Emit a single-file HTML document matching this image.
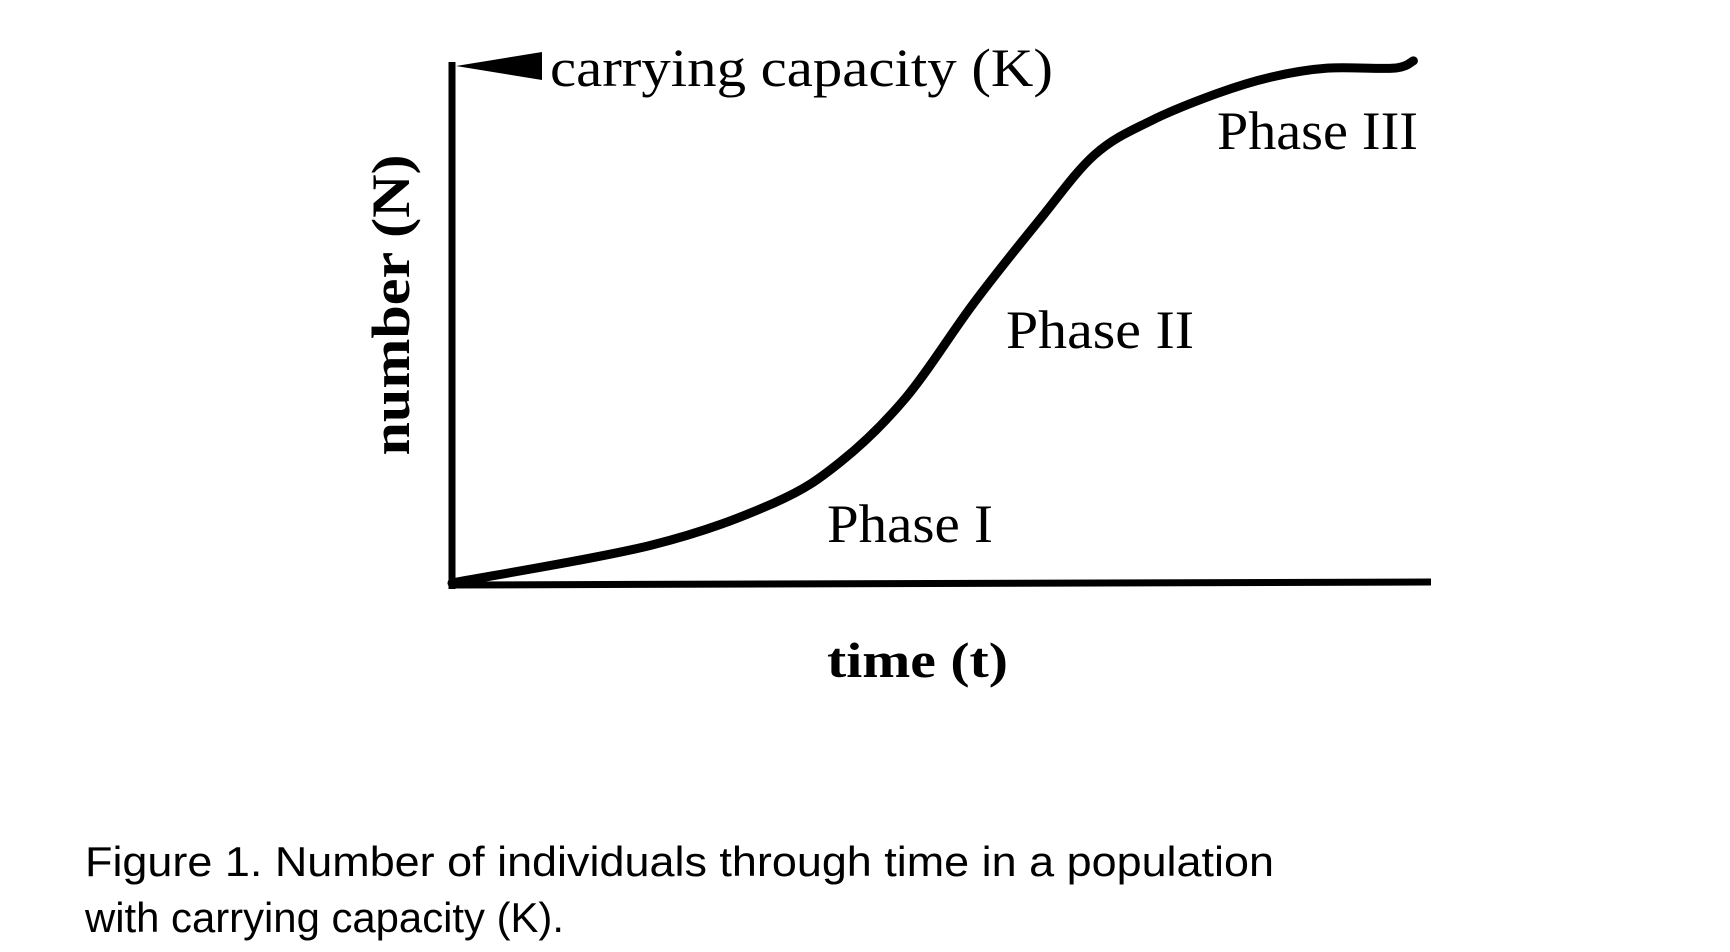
<!DOCTYPE html>
<html><head><meta charset="utf-8"><style>
html,body{margin:0;padding:0;background:#fff;}
svg{display:block;}
</style></head><body>
<svg id="chart" width="1730" height="952" viewBox="0 0 1730 952" xmlns="http://www.w3.org/2000/svg">
<line x1="452" y1="62" x2="452" y2="589" stroke="#000" stroke-width="7"/>
<line x1="449" y1="585" x2="1431" y2="582" stroke="#000" stroke-width="7"/>
<polygon points="456,66 542,52 542,80" fill="#000"/>
<text x="550" y="86" font-family="Liberation Serif, serif" font-size="54" textLength="503" lengthAdjust="spacingAndGlyphs">carrying capacity (K)</text>
<text x="1217" y="149" font-family="Liberation Serif, serif" font-size="54" textLength="201" lengthAdjust="spacingAndGlyphs">Phase III</text>
<text x="1006" y="348" font-family="Liberation Serif, serif" font-size="54" textLength="188" lengthAdjust="spacingAndGlyphs">Phase II</text>
<text x="827" y="542" font-family="Liberation Serif, serif" font-size="54" textLength="166" lengthAdjust="spacingAndGlyphs">Phase I</text>
<text x="827" y="677" font-family="Liberation Serif, serif" font-size="50" font-weight="bold" textLength="181" lengthAdjust="spacingAndGlyphs">time (t)</text>
<text transform="translate(409,305) rotate(-90)" text-anchor="middle" font-family="Liberation Serif, serif" font-size="54" font-weight="bold" textLength="301" lengthAdjust="spacingAndGlyphs">number (N)</text>
<text x="85" y="876" font-family="Liberation Sans, sans-serif" font-size="42" textLength="1189" lengthAdjust="spacingAndGlyphs">Figure 1. Number of individuals through time in a population</text>
<text x="85" y="932" font-family="Liberation Sans, sans-serif" font-size="42" textLength="479" lengthAdjust="spacingAndGlyphs">with carrying capacity (K).</text>
<path id="curve" fill="none" stroke="#000" stroke-width="9" stroke-linecap="round" stroke-linejoin="round"/>
</svg>
<script>
const timeValues = [0, 20.4, 32.9, 39.7, 46.4, 53.3, 60, 65.7, 71.4, 78.2, 83.8, 89.5, 96.3, 98.3];
const numberValues = [0, 7.3, 15.4, 23.3, 35.7, 53.8, 69.8, 82.5, 89, 94.3, 97.5, 99.2, 99.2, 100.6];
function xScale(t){ return 452 + t * (1430 - 452) / 100; }
function yScale(n){ return 583 - n * 5.19; }
const pts = timeValues.map((t,i)=>[xScale(t), yScale(numberValues[i])]);
let d = 'M' + pts[0][0] + ',' + pts[0][1];
for (let i = 0; i < pts.length - 1; i++) {
  const p0 = pts[i-1] || pts[i], p1 = pts[i], p2 = pts[i+1], p3 = pts[i+2] || p2;
  const c1 = [p1[0] + (p2[0]-p0[0])/6, p1[1] + (p2[1]-p0[1])/6];
  const c2 = [p2[0] - (p3[0]-p1[0])/6, p2[1] - (p3[1]-p1[1])/6];
  d += ' C' + c1 + ' ' + c2 + ' ' + p2;
}
document.getElementById('curve').setAttribute('d', d);
</script>
</body></html>
